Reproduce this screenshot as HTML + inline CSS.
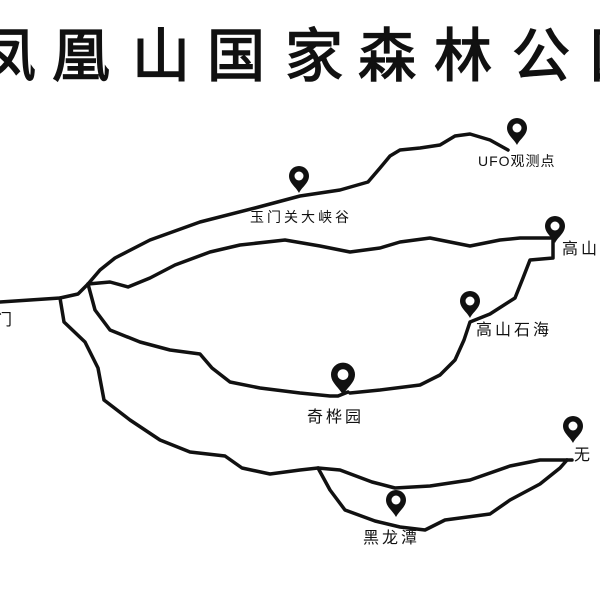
<!DOCTYPE html>
<html><head><meta charset="utf-8"><style>
html,body{margin:0;padding:0;background:#fff;}
svg{display:block;}
text{font-family:"Liberation Sans","Noto Sans CJK SC",sans-serif;fill:#111;}
</style></head><body>
<svg width="600" height="600" viewBox="0 0 600 600" xmlns="http://www.w3.org/2000/svg">
<defs>
<g id="pin"><path d="M0,0 C-3,-6 -10,-10 -10,-17 A10,10 0 1 1 10,-17 C10,-10 3,-6 0,0 Z" fill="#111"/><circle cx="0" cy="-17" r="4.5" fill="#fff"/></g>
</defs>
<g font-size="58" font-weight="normal" stroke="#111" stroke-width="1.5">
<text x="-22" y="76">凤</text><text x="52" y="76">凰</text><text x="132" y="76">山</text><text x="207" y="76">国</text><text x="285" y="76">家</text><text x="358" y="76">森</text><text x="434" y="76">林</text><text x="512" y="76">公</text><text x="590" y="76">园</text>
</g>
<g fill="none" stroke="#111" stroke-width="3.5" stroke-linejoin="round" stroke-linecap="round">
<path d="M0,302 L30,300 L60,298 L78,294 L88,284 L100,270 L115,258 L150,240 L200,222 L255,208 L300,196 L340,190 L368,182 L380,168 L390,156 L400,150 L420,148 L440,145 L455,136 L470,134 L490,140 L508,150"/>
<path d="M88,284 L110,282 L128,287 L150,278 L175,265 L210,252 L240,245 L285,240 L320,246 L350,252 L380,248 L400,242 L430,238 L470,246 L500,240 L520,238 L553,238 L553,258 L530,260 L523,278 L515,298 L490,314 L470,322 L464,340 L455,360 L440,375 L420,385 L380,390 L350,393"/>
<path d="M88,284 L95,310 L110,330 L140,342 L170,350 L200,354 L212,368 L230,382 L260,388 L300,393 L330,396 L338,396 L348,392"/>
<path d="M60,298 L64,322 L85,342 L98,368 L104,400 L130,420 L160,440 L190,452 L225,456 L242,468 L270,474 L300,470 L318,468 L340,470 L372,482 L395,488 L430,486 L470,480 L510,466 L540,460 L572,460"/>
<path d="M318,468 L330,490 L345,510 L375,521 L400,527 L425,530 L445,520 L490,514 L510,500 L540,484 L560,468 L567,460"/>
</g>
<use href="#pin" x="517" y="145"/>
<use href="#pin" x="299" y="193"/>
<use href="#pin" x="555" y="243"/>
<use href="#pin" x="470" y="318"/>
<use href="#pin" x="343" y="395" transform="translate(343 395) scale(1.2) translate(-343 -395)"/>
<use href="#pin" x="573" y="443"/>
<use href="#pin" x="396" y="517"/>
<g font-size="14" letter-spacing="3">
<text x="478" y="166" letter-spacing="1">UFO观测点</text>
<text x="250" y="222">玉门关大峡谷</text>
<text x="562" y="254" font-size="16">高山</text>
<text x="476" y="335" font-size="16">高山石海</text>
<text x="307" y="422" font-size="16">奇桦园</text>
<text x="574" y="460" font-size="16">无</text>
<text x="363" y="543" font-size="16">黑龙潭</text>
<text x="-4" y="325" font-size="16">门</text>
</g>
</svg>
</body></html>
